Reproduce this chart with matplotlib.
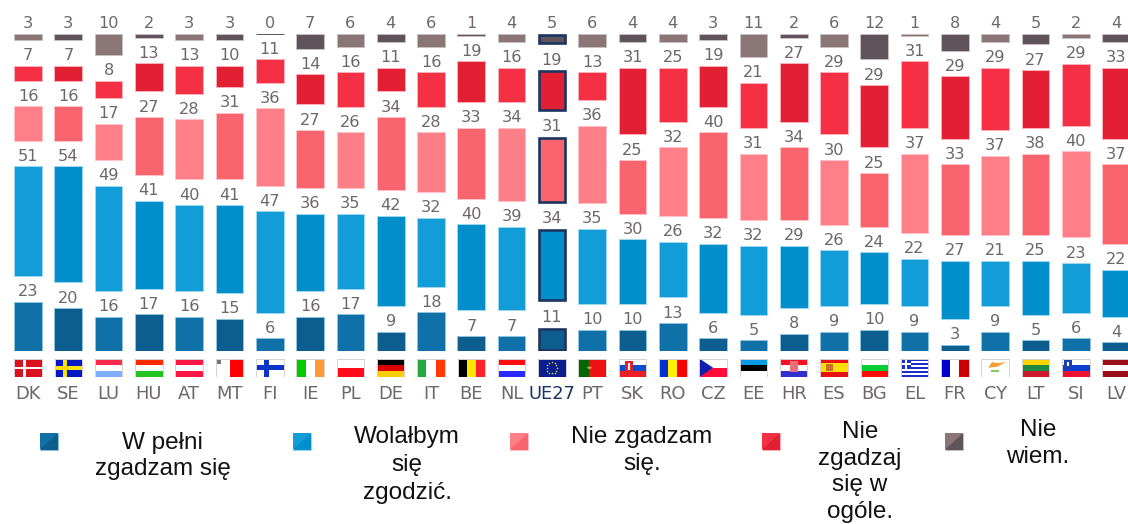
import numpy as np
import matplotlib
matplotlib.use("Agg")
import matplotlib.pyplot as plt
from matplotlib.patches import Rectangle, Polygon, Circle

countries = ["DK","SE","LU","HU","AT","MT","FI","IE","PL","DE","IT","BE","NL","UE27",
             "PT","SK","RO","CZ","EE","HR","ES","BG","EL","FR","CY","LT","SI","LV"]
fully_agree = [23,20,16,17,16,15,6,16,17,9,18,7,7,11,10,10,13,6,5,8,9,10,9,3,9,5,6,4]
rather_agree = [51,54,49,41,40,41,47,36,35,42,32,40,39,34,35,30,26,32,32,29,26,24,22,27,21,25,23,22]
rather_disagree = [16,16,17,27,28,31,36,27,26,34,28,33,34,31,36,25,32,40,31,34,30,25,37,33,37,38,40,37]
fully_disagree = [7,7,8,13,13,10,11,14,16,11,16,19,16,19,13,31,25,19,21,27,29,29,31,29,29,27,29,33]
dont_know = [3,3,10,2,3,3,0,7,6,4,6,1,4,5,6,4,4,3,11,2,6,12,1,8,4,5,2,4]
legend_labels = ["W pełni\nzgadzam się", "Wolałbym\nsię\nzgodzić.", "Nie zgadzam\nsię.",
                 "Nie\nzgadzaj\nsię w\nogóle.", "Nie\nwiem."]

series = [fully_agree, rather_agree, rather_disagree, fully_disagree, dont_know]
light = ["#0f71a8", "#129cd8", "#ff7f88", "#f53044", "#8a7677"]
dark = ["#0c5e8f", "#008fca", "#f9646f", "#e32033", "#5f535c"]
edge = ["#8fc4de", "#9fd8f0", "#ffc2c6", "#fcb0b8", "#c9bfc0"]
NAVY = "#1c3560"
TXT = "#6f6668"

W, H = 1128, 524
DPI = 100
fig = plt.figure(figsize=(W / DPI, H / DPI), dpi=DPI)
plt.rcParams["font.family"] = ["DejaVu Sans"]

BASE_PX, UNIT_PX, STEP_PX, X0_PX = 351.0, 2.15, 40.3, 28.0
ax = fig.add_axes([0, (H - BASE_PX) / H, 1, BASE_PX / H])
ax.set_xlim(-X0_PX / STEP_PX, (W - X0_PX) / STEP_PX)
ax.set_ylim(0, BASE_PX / UNIT_PX)
ax.patch.set_alpha(0)
for s in ax.spines.values():
    s.set_visible(False)
ax.set_yticks([])
ax.set_xticks(range(len(countries)))
ax.set_xticklabels(countries, fontsize=12.9, color=TXT)
ax.tick_params(axis="x", length=0, pad=24.5)
eu = countries.index("UE27")
ax.get_xticklabels()[eu].set_color(NAVY)

BAR_W = 28.7 / STEP_PX
GAP = 25.6 / UNIT_PX
x = np.arange(len(countries))
bottom = np.zeros(len(countries))
for k, vals in enumerate(series):
    vals = np.array(vals, dtype=float)
    cols = [light[k] if i % 2 == 0 else dark[k] for i in x]
    eds = [edge[k] if v > 0 else dark[k] for v in vals]
    for i in x:
        if i == eu:
            inx = 1.3 / STEP_PX
            iny = 1.3 / UNIT_PX
            ax.bar(i, vals[i] - 2 * iny, BAR_W - 2 * inx, bottom[i] + iny,
                   color=dark[k], edgecolor=NAVY, linewidth=1.9, zorder=3)
        else:
            ax.bar(i, vals[i], BAR_W - 1 / STEP_PX, bottom[i], color=cols[i],
                   edgecolor=eds[i], linewidth=0.7, zorder=2)
        ax.annotate(str(int(vals[i])), (i, bottom[i] + vals[i]), xytext=(0, 3.9),
                    textcoords="offset points", ha="center", va="baseline",
                    fontsize=11.6, color=TXT)
    bottom += vals + GAP

# flags
fx = fig.add_axes([0, (H - 377) / H, 1, 18.5 / H])
fx.set_xlim(ax.get_xlim())
fx.set_ylim(0, 1)
fx.axis("off")
FW = 27.5 / STEP_PX


def r(i, a, b, c, d, col):
    fx.add_patch(Rectangle((i - FW / 2 + a * FW, 1 - d), (c - a) * FW, d - b, color=col, lw=0))


def hs(i, *cols):
    for n, c in enumerate(cols):
        r(i, 0, n / len(cols), 1, (n + 1) / len(cols), c)


def vs(i, *cols):
    for n, c in enumerate(cols):
        r(i, n / len(cols), 0, (n + 1) / len(cols), 1, c)


def dot(i, a, b, col, s=3):
    fx.plot(i - FW / 2 + a * FW, 1 - b, "s", ms=s, color=col, mew=0)


idx = {c: n for n, c in enumerate(countries)}
r(idx["DK"], 0, 0, 1, 1, "#d8121f"); r(idx["DK"], 0.3, 0, 0.42, 1, "white"); r(idx["DK"], 0, 0.44, 1, 0.56, "white")
r(idx["SE"], 0, 0, 1, 1, "#0018c8"); r(idx["SE"], 0.3, 0, 0.46, 1, "#ffe000"); r(idx["SE"], 0, 0.4, 1, 0.6, "#ffe000")
hs(idx["LU"], "#ff2a4a", "white", "#7fb0ff")
hs(idx["HU"], "#ff2a00", "white", "#22c422")
hs(idx["AT"], "#ff1744", "white", "#ff1744")
vs(idx["MT"], "white", "#ff0000"); dot(idx["MT"], 0.13, 0.18, "#777777")
r(idx["FI"], 0, 0, 1, 1, "white"); r(idx["FI"], 0.28, 0, 0.48, 1, "#0a35c8"); r(idx["FI"], 0, 0.37, 1, 0.63, "#0a35c8")
vs(idx["IE"], "#00cc00", "white", "#ff9933")
hs(idx["PL"], "white", "#ff0d1a")
hs(idx["DE"], "black", "#dd0000", "#ffce00")
vs(idx["IT"], "#22a83c", "white", "#ff3a00")
vs(idx["BE"], "black", "#ffe600", "#ff2030")
hs(idx["NL"], "#ff0d0d", "white", "#2a2aff")
r(eu, 0, 0, 1, 1, "#0a1f8f")
for a in np.deg2rad(np.arange(0, 360, 30)):
    fx.plot(eu + 0.13 * np.cos(a), 0.5 + 0.3 * np.sin(a), "o", ms=1.1, color="#e8d020", mew=0)
r(idx["PT"], 0, 0, 0.4, 1, "#006600"); r(idx["PT"], 0.4, 0, 1, 1, "#ee1111")
fx.add_patch(Circle((idx["PT"] - FW / 2 + 0.4 * FW, 0.5), 0.06, color="#c9a642", lw=0, zorder=3))
hs(idx["SK"], "white", "#0b4ecb", "#ee1c25")
r(idx["SK"], 0.24, 0.15, 0.5, 0.72, "#e0202a"); r(idx["SK"], 0.34, 0.25, 0.4, 0.6, "white")
vs(idx["RO"], "#0033cc", "#ffee00", "#ff0000")
hs(idx["CZ"], "white", "#ff0d36")
fx.add_patch(Polygon([(idx["CZ"] - FW / 2, 1), (idx["CZ"], 0.5), (idx["CZ"] - FW / 2, 0)], color="#1020b0", lw=0, zorder=3))
hs(idx["EE"], "#0a9ae8", "black", "white")
hs(idx["HR"], "#ff1020", "white", "#3030d0")
r(idx["HR"], 0.36, 0.15, 0.64, 0.75, "#e8707a")
r(idx["ES"], 0, 0, 1, 1, "#e81010"); r(idx["ES"], 0, 0.25, 1, 0.75, "#ffdd00"); r(idx["ES"], 0.22, 0.3, 0.48, 0.7, "#c87030")
hs(idx["BG"], "white", "#00cc33", "#ff0d0d")
for n in range(9):
    r(idx["EL"], 0, n / 9, 1, (n + 1) / 9, "#1a2ecc" if n % 2 == 0 else "white")
r(idx["EL"], 0, 0, 0.37, 5 / 9, "#1a2ecc"); r(idx["EL"], 0.14, 0, 0.22, 5 / 9, "white"); r(idx["EL"], 0, 0.22, 0.37, 0.33, "white")
vs(idx["FR"], "#0000cc", "white", "#cc0000")
r(idx["CY"], 0, 0, 1, 1, "white")
fx.add_patch(Polygon([(idx["CY"] - 0.17, 0.5), (idx["CY"] + 0.05, 0.55), (idx["CY"] + 0.27, 0.82), (idx["CY"] + 0.1, 0.75), (idx["CY"] - 0.08, 0.8)],
                     color="#f0a030", lw=0, zorder=3))
r(idx["CY"], 0.35, 0.62, 0.65, 0.72, "#88cc66")
hs(idx["LT"], "#ffd500", "#1e8a44", "#cc1a2a")
hs(idx["SI"], "white", "#0a3fd0", "#ee1030")
r(idx["SI"], 0.08, 0.08, 0.36, 0.55, "#1a3fb0"); r(idx["SI"], 0.17, 0.2, 0.27, 0.42, "white")
hs(idx["LV"], "#9c0f1a", "white", "#9c0f1a")
for i in x:
    fx.add_patch(Rectangle((i - FW / 2, 0), FW, 1, fill=False, ec="#d8d2d2", lw=0.7, zorder=4))

# legend
lx = fig.add_axes([0, 0, 1, 1])
lx.set_xlim(0, W)
lx.set_ylim(H, 0)
lx.axis("off")
lx.patch.set_alpha(0)
swatch_x = [40, 293, 510, 762, 945]
text_x = [162.5, 407, 642, 860, 1038]
text_top = [432, 426.5, 426.5, 421, 419.5]
line_sp = [1.22, 1.33, 1.27, 1.27, 1.27]
for k in range(5):
    sx, sy, sw, sh = swatch_x[k], 433, 18, 16.5
    lx.add_patch(Rectangle((sx, sy), sw, sh, fc=dark[k], ec=edge[k], lw=0.7))
    lx.add_patch(Polygon([(sx, sy), (sx + sw, sy), (sx, sy + sh)], fc=light[k], lw=0))
    lx.text(text_x[k], text_top[k], legend_labels[k], ha="center", va="top", fontsize=17.5,
            family=["Liberation Sans"], color="#111111", linespacing=line_sp[k], clip_on=False)

fig.savefig("out.png", dpi=DPI, facecolor="white")
